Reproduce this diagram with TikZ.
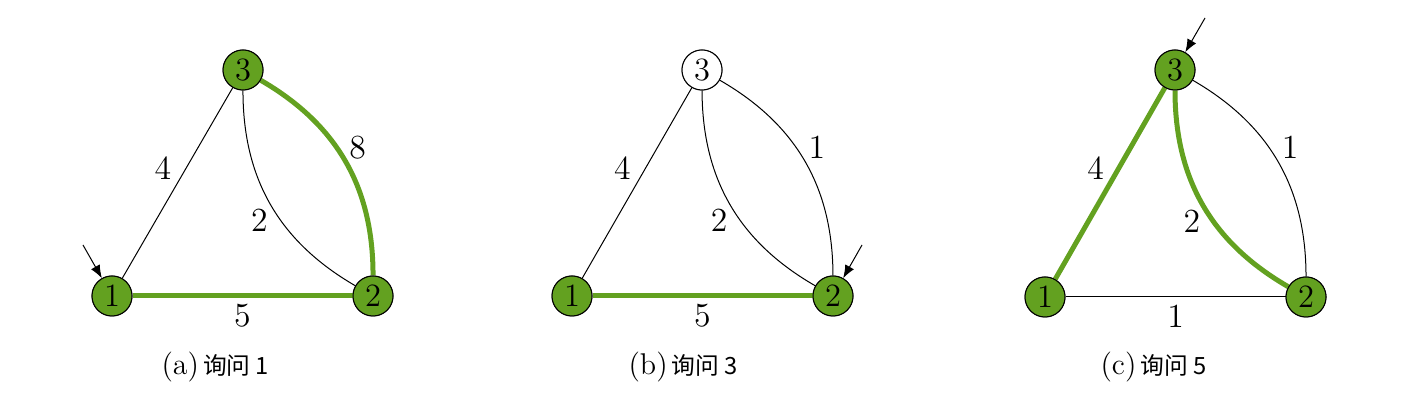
\documentclass[tikz,border=0pt]{standalone}
\usepackage{fontspec}
\newfontfamily\cjk{Noto Sans CJK SC}
\usetikzlibrary{arrows.meta}
\definecolor{vgreen}{RGB}{99,161,32}
\begin{document}
\begin{tikzpicture}[x=0.4pt,y=0.4pt,
  vertex/.style={circle,draw=black,line width=0.4pt,fill=vgreen,minimum size=16pt,inner sep=0pt,font=\fontsize{13}{15}\selectfont},
  openvertex/.style={vertex,fill=white},
  thinedge/.style={draw=black,line width=0.4pt},
  treeedge/.style={draw=vgreen,line width=2pt},
  lbl/.style={font=\fontsize{13.5}{15}\selectfont,text=black,inner sep=0pt,anchor=center,pos=0.5},
  l13/.style={lbl,shift={(-14.5,15)}},
  l12/.style={lbl,shift={(0,-19.5)}},
  lout/.style={lbl,shift={(12,14)}},
  lin/.style={lbl,shift={(-11,-16)}},
  outer/.style={bend left=30},
  inner/.style={bend right=30},
  pointer/.style={draw=black,line width=0.4pt,-{Latex[length=5.2pt,width=4pt]}},
  capt/.style={anchor=base west,inner sep=0pt,font=\fontsize{12}{14}\selectfont},
  cjkcap/.style={}]
\useasboundingbox (0,0) rectangle (1404,-410);
% ---------- (a) ----------
\node[vertex] (a1) at (112,-296) {1};
\node[vertex] (a2) at (373,-296) {2};
\node[vertex] (a3) at (243,-70) {3};
\coordinate (pa) at (83,-245);
\path[thinedge] (a1) -- node[l13] {4} (a3);
\path[thinedge] (a3) to[inner] node[lin] {2} (a2);
\path[treeedge] (a3) to[outer] node[lout] {8} (a2);
\path[treeedge] (a1) -- node[l12] {5} (a2);
\node[vertex] at (a1) {1};
\node[vertex] at (a2) {2};
\node[vertex] at (a3) {3};
\draw[pointer] (pa) -- (a1);
\node[capt] (ca) at (161,-375) {(a)\hspace{1.6pt}{\cjk\fontsize{9.5}{11}\selectfont 询问 1}};
% ---------- (b) ----------
\node[vertex] (b1) at (572,-296) {1};
\node[vertex] (b2) at (833,-296) {2};
\node[openvertex] (b3) at (702,-70) {3};
\coordinate (pb) at (862,-245);
\path[thinedge] (b1) -- node[l13] {4} (b3);
\path[thinedge] (b3) to[inner] node[lin] {2} (b2);
\path[thinedge] (b3) to[outer] node[lout] {1} (b2);
\path[treeedge] (b1) -- node[l12] {5} (b2);
\node[vertex] at (b1) {1};
\node[vertex] at (b2) {2};
\node[openvertex] at (b3) {3};
\draw[pointer] (pb) -- (b2);
\node[capt] (cb) at (628,-375) {(b)\hspace{1.6pt}{\cjk\fontsize{9.5}{11}\selectfont 询问 3}};
% ---------- (c) ----------
\node[vertex] (c1) at (1045,-297) {1};
\node[vertex] (c2) at (1306,-297) {2};
\node[vertex] (c3) at (1175,-70) {3};
\coordinate (pc) at (1205,-18);
\path[treeedge] (c1) -- node[l13] {4} (c3);
\path[treeedge] (c3) to[inner] node[lin] {2} (c2);
\path[thinedge] (c3) to[outer] node[lout] {1} (c2);
\path[thinedge] (c1) -- node[l12] {1} (c2);
\node[vertex] at (c1) {1};
\node[vertex] at (c2) {2};
\node[vertex] at (c3) {3};
\draw[pointer] (pc) -- (c3);
\node[capt] (cc) at (1100,-375) {(c)\hspace{1.6pt}{\cjk\fontsize{9.5}{11}\selectfont 询问 5}};
\end{tikzpicture}
\end{document}
